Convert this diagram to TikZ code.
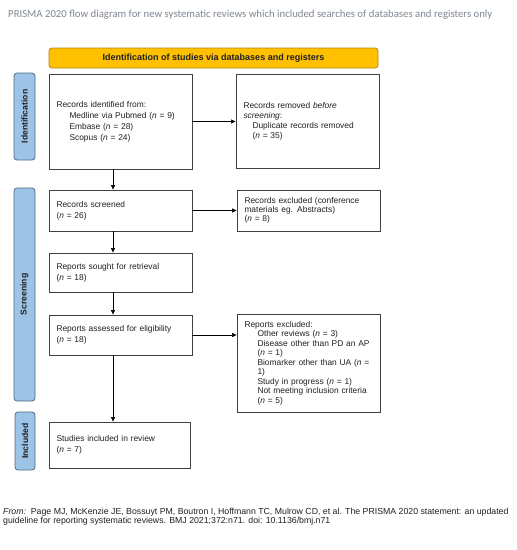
\documentclass[tikz,border=0pt]{standalone}
\usepackage{fontspec}
\setmainfont{Liberation Sans}
\newfontfamily\calibri{Carlito}
\usetikzlibrary{arrows.meta}
\definecolor{titlegray}{HTML}{7F8893}
\definecolor{hdrfill}{HTML}{FFC000}
\definecolor{hdrline}{HTML}{B08A10}
\definecolor{sidefill}{HTML}{9DC3E6}
\definecolor{sideline}{HTML}{4F6B87}
\definecolor{boxline}{HTML}{404040}
\definecolor{txt}{HTML}{202020}
\newcommand\nv{\textit{n}}
\newcommand\ind{\hspace*{13pt}}
\newcommand\indb{\hspace*{9pt}}
\begin{document}
\begin{tikzpicture}[x=1pt,y=-1pt,
  box/.style={draw=boxline, line width=0.9pt, fill=white, inner xsep=7.5pt, inner ysep=2pt,
    text width=128pt, align=left, text=txt, font=\fontsize{8.4}{9.5}\selectfont, anchor=center},
  side/.style={draw=sideline, line width=0.8pt, fill=sidefill, rounded corners=3pt,
    font=\bfseries\fontsize{8.6}{9}\selectfont, rotate=90, inner sep=0pt, text=txt},
  hdr/.style={draw=hdrline, line width=0.8pt, fill=hdrfill, rounded corners=3pt,
    font=\bfseries\fontsize{9}{10}\selectfont, inner sep=0pt, text=txt},
  arr/.style={-{Triangle[length=4.5pt,width=4pt]}, line width=0.6pt, draw=black}]
\useasboundingbox (0,0) rectangle (517,550);
\fill[white] (0,0) rectangle (517,550);

\node[anchor=west, text=titlegray, font=\calibri\fontsize{10.75}{12}\selectfont, inner sep=0pt] (title) at (8,15)
  {PRISMA 2020 flow diagram for new systematic reviews which included searches of databases and registers only};

\node[hdr, minimum width=329pt, minimum height=20pt] (hdr) at (213.5,58) {Identification of studies via databases and registers};

\node[side, minimum width=87pt, minimum height=21pt] (sid) at (24.5,116.5) {Identification};
\node[side, minimum width=213pt, minimum height=21pt] (sscr) at (24.5,294.5) {Screening};
\node[side, minimum width=58pt, minimum height=20pt] (sinc) at (25,441) {Included};

\node[box, minimum height=95pt, font=\fontsize{8.4}{11}\selectfont] (ident) at (120.5,121.5)
  {Records identified from:\\ \ind Medline via Pubmed (\nv{} = 9)\\ \ind Embase (\nv{} = 28)\\ \ind Scopus (\nv{} = 24)};
\node[box, minimum height=94pt, font=\fontsize{8.4}{10}\selectfont] (removed) at (307.5,121)
  {Records removed \textit{before}\\ \textit{screening}:\\ \indb Duplicate records removed\\ \indb (\nv{} = 35)\\[7pt]};

\node[box, minimum height=41pt, font=\fontsize{8.4}{11}\selectfont] (screened) at (120.5,210.5)
  {Records screened\\ (\nv{} = 26)};
\node[box, minimum height=41pt, font=\fontsize{8.4}{9}\selectfont] (excl1) at (308.5,210.5)
  {Records excluded (conference\\ materials eg. Abstracts)\\ (\nv{} = 8)};

\node[box, minimum height=39pt, font=\fontsize{8.4}{11}\selectfont] (sought) at (120.5,272.5)
  {Reports sought for retrieval\\ (\nv{} = 18)};

\node[box, minimum height=40pt, font=\fontsize{8.4}{11}\selectfont] (assessed) at (120.5,335)
  {Reports assessed for eligibility\\ (\nv{} = 18)};
\node[box, minimum height=98pt] (excl2) at (308.5,363)
  {Reports excluded:\\
   \ind Other reviews (\nv{} = 3)\\
   \ind Disease other than PD an AP\\
   \ind (\nv{} = 1)\\
   \ind Biomarker other than UA (\nv{} =\\
   \ind 1)\\
   \ind Study in progress (\nv{} = 1)\\
   \ind Not meeting inclusion criteria\\
   \ind (\nv{} = 5)};

\node[box, text width=126pt, minimum height=46pt, font=\fontsize{8.4}{11}\selectfont] (incl) at (119.5,445)
  {Studies included in review\\ (\nv{} = 7)};

\coordinate (ax) at (113,0);
\draw[arr] (ident.south -| ax) -- (screened.north -| ax);
\draw[arr] (screened.south -| ax) -- (sought.north -| ax);
\draw[arr] (sought.south -| ax) -- (assessed.north -| ax);
\draw[arr] (assessed.south -| ax) -- (incl.north -| ax);
\draw[arr] (ident.east) -- (ident.east -| removed.west);
\draw[arr] (screened.east) -- (screened.east -| excl1.west);
\draw[arr] (assessed.east) -- (assessed.east -| excl2.west);

\node[anchor=base west, inner sep=0pt, align=left, text=txt, font=\fontsize{8.75}{7.8}\selectfont] (foot) at (3,523.5)
  {\textit{From:}\ \ Page MJ, McKenzie JE, Bossuyt PM, Boutron I, Hoffmann TC, Mulrow CD, et al. The PRISMA 2020 statement: an updated\\
   guideline for reporting systematic reviews. BMJ 2021;372:n71. doi: 10.1136/bmj.n71};
\end{tikzpicture}
\end{document}
